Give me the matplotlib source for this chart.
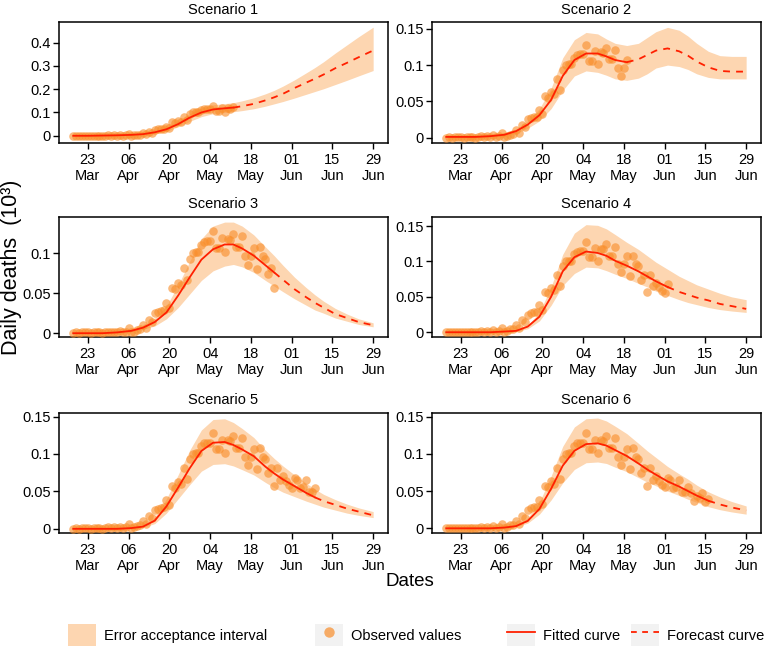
import numpy as np
import pandas as pd
import matplotlib
matplotlib.use('Agg')
import matplotlib.pyplot as plt
from matplotlib.patches import Patch
from matplotlib.lines import Line2D
from matplotlib.legend_handler import HandlerTuple
from matplotlib.ticker import FuncFormatter
import matplotlib.dates as mdates

plt.rcParams['font.family'] = ['Liberation Sans', 'DejaVu Sans']

# --- data (daily deaths, in thousands) ---
start = pd.Timestamp('2020-03-18')

observed = [0, 0.001, 0, 0.001, 0.001, 0.001, 0, 0.001, 0.001, 0.001,
            0, 0.001, 0.002, 0.001, 0.002, 0.001, 0.003, 0.001, 0.002, 0.006,
            0.001, 0.002, 0.004, 0.005, 0.010, 0.006, 0.017, 0.014, 0.025, 0.027,
            0.028, 0.029, 0.038, 0.032, 0.057, 0.055, 0.063, 0.060, 0.081, 0.066,
            0.093, 0.100, 0.101, 0.101, 0.110, 0.114, 0.115, 0.115, 0.128, 0.106,
            0.106, 0.119, 0.101, 0.118, 0.117, 0.124, 0.108, 0.108, 0.121, 0.096,
            0.085, 0.096, 0.107, 0.080, 0.108, 0.096, 0.093, 0.074, 0.081, 0.057,
            0.081, 0.065, 0.070, 0.064, 0.058, 0.055, 0.068, 0.065, 0.054, 0.056,
            0.065, 0.049, 0.049, 0.055, 0.047, 0.036, 0.043, 0.040, 0.048, 0.035,
            0.039]

# last observed day (days after 18 Mar) used in each scenario
last_day = [55, 62, 69, 76, 83, 90]

titles = ['Scenario 1', 'Scenario 2', 'Scenario 3',
          'Scenario 4', 'Scenario 5', 'Scenario 6']

# days after 18 Mar at which the curves were read
curve_days = [0, 5, 10, 15, 20, 24, 28, 32, 36, 40, 44, 48, 52, 55,
              58, 62, 66, 69, 72, 76, 80, 83, 86, 90, 94, 98, 103]

fit1 = [0, 0, 0.001, 0.002, 0.004, 0.007, 0.015, 0.028, 0.05, 0.078, 0.10, 0.113, 0.118, 0.121,
        0.127, 0.137, 0.152, 0.165, 0.18, 0.205, 0.228, 0.245, 0.263, 0.29, 0.313, 0.337, 0.366]
up1 = [0.002, 0.002, 0.003, 0.004, 0.007, 0.011, 0.021, 0.037, 0.063, 0.095, 0.12, 0.133, 0.138, 0.142,
       0.15, 0.163, 0.18, 0.195, 0.213, 0.24, 0.27, 0.293, 0.318, 0.355, 0.39, 0.425, 0.466]
lo1 = [0, 0, 0, 0.001, 0.002, 0.004, 0.01, 0.02, 0.038, 0.062, 0.082, 0.095, 0.1, 0.103,
       0.108, 0.116, 0.127, 0.137, 0.147, 0.162, 0.178, 0.19, 0.202, 0.22, 0.238, 0.257, 0.28]

fit2 = [0.001, 0.001, 0.001, 0.002, 0.004, 0.009, 0.018, 0.031, 0.052, 0.085, 0.107, 0.116, 0.116, 0.112,
        0.107, 0.104, 0.108, 0.114, 0.12, 0.123, 0.119, 0.113, 0.105, 0.097, 0.092, 0.091, 0.091]
up2 = [0.002, 0.002, 0.002, 0.003, 0.006, 0.012, 0.023, 0.04, 0.068, 0.11, 0.135, 0.145, 0.143, 0.136,
       0.13, 0.127, 0.13, 0.138, 0.146, 0.152, 0.148, 0.14, 0.13, 0.119, 0.113, 0.112, 0.112]
lo2 = [0, 0, 0, 0.001, 0.002, 0.006, 0.013, 0.023, 0.04, 0.065, 0.085, 0.092, 0.09, 0.086,
       0.081, 0.079, 0.082, 0.088, 0.096, 0.1, 0.098, 0.094, 0.088, 0.083, 0.081, 0.081, 0.081]

fit3 = [0, 0, 0, 0.001, 0.003, 0.007, 0.014, 0.026, 0.047, 0.07, 0.092, 0.105, 0.111, 0.111,
        0.106, 0.097, 0.085, 0.076, 0.067, 0.055, 0.045, 0.038, 0.032, 0.024, 0.019, 0.014, 0.010]
up3 = [0.001, 0.001, 0.001, 0.002, 0.004, 0.009, 0.019, 0.034, 0.06, 0.09, 0.118, 0.134, 0.139, 0.139,
       0.134, 0.123, 0.108, 0.097, 0.085, 0.07, 0.057, 0.048, 0.04, 0.031, 0.024, 0.018, 0.013]
lo3 = [0, 0, 0, 0, 0.002, 0.005, 0.009, 0.018, 0.032, 0.049, 0.066, 0.078, 0.084, 0.086,
       0.083, 0.076, 0.066, 0.059, 0.052, 0.043, 0.035, 0.029, 0.025, 0.019, 0.015, 0.011, 0.008]

fit4 = [0, 0, 0, 0, 0.001, 0.002, 0.008, 0.022, 0.05, 0.086, 0.106, 0.114, 0.112, 0.108,
        0.101, 0.094, 0.086, 0.079, 0.072, 0.064, 0.057, 0.053, 0.049, 0.045, 0.04, 0.037, 0.033]
up4 = [0.001, 0.001, 0.001, 0.001, 0.002, 0.003, 0.01, 0.028, 0.064, 0.11, 0.14, 0.152, 0.151, 0.146,
       0.138, 0.127, 0.117, 0.108, 0.099, 0.089, 0.079, 0.073, 0.067, 0.061, 0.055, 0.05, 0.046]
lo4 = [0, 0, 0, 0, 0, 0.001, 0.005, 0.016, 0.038, 0.066, 0.083, 0.092, 0.091, 0.087,
       0.082, 0.076, 0.069, 0.064, 0.058, 0.052, 0.046, 0.042, 0.039, 0.035, 0.032, 0.03, 0.028]

fit5 = [0, 0, 0, 0, 0.001, 0.003, 0.011, 0.03, 0.055, 0.081, 0.104, 0.115, 0.116, 0.112,
        0.106, 0.097, 0.083, 0.074, 0.066, 0.057, 0.048, 0.042, 0.037, 0.032, 0.027, 0.023, 0.018]
up5 = [0.001, 0.001, 0.001, 0.001, 0.002, 0.005, 0.016, 0.04, 0.072, 0.105, 0.132, 0.146, 0.147, 0.142,
       0.134, 0.122, 0.105, 0.094, 0.084, 0.072, 0.061, 0.053, 0.046, 0.039, 0.033, 0.028, 0.023]
lo5 = [0, 0, 0, 0, 0, 0.002, 0.007, 0.021, 0.04, 0.059, 0.077, 0.086, 0.087, 0.084,
       0.079, 0.072, 0.062, 0.055, 0.049, 0.043, 0.037, 0.033, 0.029, 0.025, 0.021, 0.018, 0.015]

fit6 = [0, 0, 0, 0, 0.001, 0.003, 0.01, 0.026, 0.053, 0.084, 0.104, 0.113, 0.114, 0.111,
        0.105, 0.097, 0.087, 0.079, 0.072, 0.063, 0.056, 0.05, 0.044, 0.037, 0.032, 0.028, 0.024]
up6 = [0.001, 0.001, 0.001, 0.001, 0.002, 0.005, 0.014, 0.035, 0.07, 0.11, 0.136, 0.147, 0.148, 0.144,
       0.137, 0.127, 0.114, 0.104, 0.095, 0.083, 0.073, 0.066, 0.058, 0.049, 0.042, 0.036, 0.03]
lo6 = [0, 0, 0, 0, 0, 0.002, 0.007, 0.019, 0.038, 0.061, 0.079, 0.088, 0.089, 0.087,
       0.082, 0.076, 0.068, 0.062, 0.057, 0.05, 0.044, 0.039, 0.035, 0.029, 0.025, 0.022, 0.019]

fitted = [fit1, fit2, fit3, fit4, fit5, fit6]
upper = [up1, up2, up3, up4, up5, up6]
lower = [lo1, lo2, lo3, lo4, lo5, lo6]

y_ticks = [[0, 0.1, 0.2, 0.3, 0.4], [0, 0.05, 0.1, 0.15], [0, 0.05, 0.1],
           [0, 0.05, 0.1, 0.15], [0, 0.05, 0.1, 0.15], [0, 0.05, 0.1, 0.15]]

# --- layout / styles ---
y_lims = [(-0.031, 0.487), (-0.0074, 0.159), (-0.005, 0.146),
          (-0.007, 0.1635), (-0.006, 0.155), (-0.0067, 0.155)]
W, H = 765, 651
col_left = [59, 432]
ax_w = 329
rows = [(22.3, 143.0), (216.5, 337.2), (412.8, 533.3)]

BAND = '#fdd6b1'
POINT = '#f98e2b'
RED = '#ff2000'
KEYBG = '#f2f2f2'

fig = plt.figure(figsize=(W / 100, H / 100), dpi=100)

obs_dates = start + pd.to_timedelta(np.arange(len(observed)), unit='D')
cx = start + pd.to_timedelta(curve_days, unit='D')
tick_dates = pd.date_range('2020-03-23', periods=8, freq='14D')

for i in range(6):
    r, c = divmod(i, 2)
    top, bot = rows[r]
    ax = fig.add_axes([col_left[c] / W, 1 - bot / H, ax_w / W, (bot - top) / H])

    ax.fill_between(cx, lower[i], upper[i], color=BAND, lw=0, zorder=1)
    n = last_day[i] + 1
    ax.scatter(obs_dates[:n], observed[:n], s=38, color=POINT, alpha=0.62,
               lw=0, zorder=3)
    k = curve_days.index(last_day[i])
    ax.plot(cx[:k + 1], fitted[i][:k + 1], color=RED, lw=1.3, zorder=4)
    ax.plot(cx[k:], fitted[i][k:], color=RED, lw=1.3, ls=(0, (3.8, 3.4)), zorder=4)

    ax.set_xlim(start - pd.Timedelta(days=4.9), start + pd.Timedelta(days=108.1))
    ax.set_ylim(*y_lims[i])
    ax.set_xticks(tick_dates)
    ax.xaxis.set_major_formatter(mdates.DateFormatter('%d\n%b'))
    ax.set_yticks(y_ticks[i])
    ax.yaxis.set_major_formatter(FuncFormatter(lambda v, p: '%g' % v))
    ax.tick_params(direction='out', length=4, width=1, labelsize=10.5,
                   pad=2, colors='black')
    ax.tick_params(axis='x', pad=3)
    for s in ax.spines.values():
        s.set_linewidth(1.1)
        s.set_color('black')
    ax.set_title(titles[i], fontsize=10.5, pad=6)

fig.text(0.0145, 0.59, 'Daily deaths  (10³)', rotation=90, ha='center',
         va='center', fontsize=15.5)
fig.text(0.536, 0.106, 'Dates', ha='center', va='center', fontsize=13.5)

# legend, one item at a time to keep ggplot-like spacing
bg = Patch(facecolor=KEYBG, edgecolor='none')
items = [
    ((bg, Patch(facecolor=BAND, edgecolor='none')), 'Error acceptance interval', 68),
    ((bg, Line2D([], [], ls='none', marker='o', ms=7.5, mfc=POINT, mec='none', alpha=0.7)),
     'Observed values', 315),
    ((bg, Line2D([], [], color=RED, lw=1.3)), 'Fitted curve', 507),
    ((bg, Line2D([], [], color=RED, lw=1.3, ls=(0, (3.2, 3.0)))), 'Forecast curve', 631),
]
for h, lab, x0 in items:
    fig.legend(handles=[h], labels=[lab], loc='center left',
               bbox_to_anchor=(x0 / W, 1 - 635 / H), frameon=False,
               fontsize=10.5, handlelength=1.9, handleheight=1.9,
               handletextpad=0.6, borderpad=0, borderaxespad=0, numpoints=1,
               handler_map={tuple: HandlerTuple(ndivide=1, pad=0)})

fig.savefig('out.png', dpi=100)
